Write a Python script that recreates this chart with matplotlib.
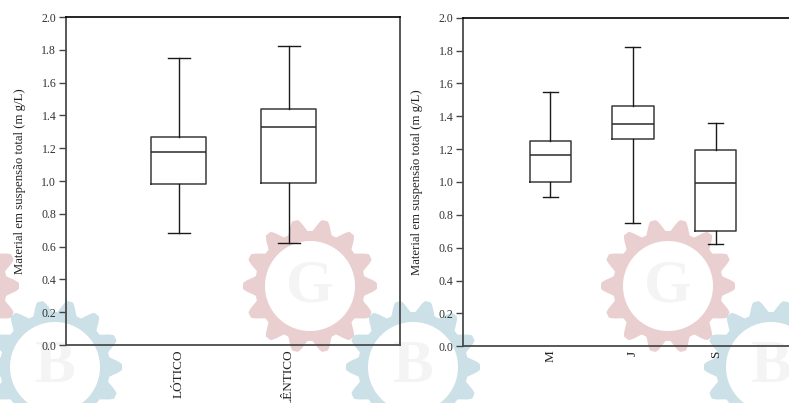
import numpy as np
import matplotlib.pyplot as plt
from matplotlib.patches import Polygon

plt.rcParams['font.family'] = ['Liberation Serif', 'DejaVu Serif']

# Box statistics, suspended material (mg/L)
ambiente = ['LÓTICO', 'LÊNTICO']
amb_whislo = [0.683, 0.620]
amb_q1 = [0.984, 0.986]
amb_med = [1.179, 1.331]
amb_q3 = [1.266, 1.441]
amb_whishi = [1.750, 1.823]

meses = ['M', 'J', 'S']
mes_whislo = [0.907, 0.749, 0.623]
mes_q1 = [1.002, 1.260, 0.700]
mes_med = [1.162, 1.355, 0.992]
mes_q3 = [1.251, 1.463, 1.197]
mes_whishi = [1.548, 1.820, 1.361]

W, H = 789, 403
fig = plt.figure(figsize=(W / 100, H / 100), dpi=100)
fig.patch.set_facecolor('white')


def gear(cx, cy, color, letter):
    # background stamp: toothed ring with a white centre and faint letter
    t = np.linspace(0, 2 * np.pi, 720)
    r = 61 + 6 * np.clip(np.cos(14 * t) * 1.2, -1, 1)
    fig.patches.append(Polygon(np.c_[(cx + r * np.cos(t)) / W, (H - (cy + r * np.sin(t))) / H],
                               closed=True, transform=fig.transFigure,
                               facecolor=color, edgecolor='none', zorder=0))
    fig.patches.append(Polygon(np.c_[(cx + 45 * np.cos(t)) / W, (H - (cy + 45 * np.sin(t))) / H],
                               closed=True, transform=fig.transFigure,
                               facecolor='white', edgecolor='none', zorder=0))
    fig.text(cx / W, (H - cy) / H, letter, ha='center', va='center', fontsize=44,
             fontweight='bold', color='#f4f4f4', zorder=0)


for cx in (-48, 310, 668):
    gear(cx, 286, '#eacfd1', 'G')
for cx in (55, 413, 771):
    gear(cx, 367, '#cbe0e7', 'B')


def make_panel(rect, labels, lo, q1, med, q3, hi, xlim, capw):
    ax = fig.add_axes(rect)
    ax.set_zorder(2)
    ax.patch.set_alpha(0)
    stats = [dict(label=l, whislo=a, q1=b, med=c, q3=d, whishi=e)
             for l, a, b, c, d, e in zip(labels, lo, q1, med, q3, hi)]
    ax.bxp(stats, positions=np.arange(1, len(labels) + 1), widths=0.5,
           capwidths=capw, showfliers=False, patch_artist=False,
           boxprops=dict(color='#3a3a3a', linewidth=1.1),
           medianprops=dict(color='#2a2a2a', linewidth=1.1),
           whiskerprops=dict(color='#1a1a1a', linewidth=1.0),
           capprops=dict(color='#1a1a1a', linewidth=1.0))
    ax.set_xlim(*xlim)
    ax.set_ylim(0, 2.0)
    ax.set_yticks(np.arange(0, 2.01, 0.2))
    ax.set_yticklabels([f'{v:.1f}' for v in np.arange(0, 2.01, 0.2)])
    ax.tick_params(axis='y', length=5, width=1, color='#444444', labelsize=8.6,
                   labelcolor='#333333', pad=2)
    ax.tick_params(axis='x', length=0, labelsize=9.5, labelrotation=90,
                   labelcolor='#222222', pad=3)
    for s in ('left', 'bottom', 'right'):
        ax.spines[s].set_color('#4a4a4a')
        ax.spines[s].set_linewidth(1.3)
    ax.spines['top'].set_color('black')
    ax.spines['top'].set_linewidth(1.2)
    ax.set_ylabel('Material em suspensão total (m g/L)', fontsize=9.2, color='#222222',
                  labelpad=11)
    return ax


make_panel([66 / W, (H - 345) / H, 334 / W, 328 / H], ambiente,
           amb_whislo, amb_q1, amb_med, amb_q3, amb_whishi, (-0.025, 3.01), 0.2)
make_panel([463.3 / W, (H - 346.3) / H, 331 / W, 328.6 / H], meses,
           mes_whislo, mes_q1, mes_med, mes_q3, mes_whishi, (-0.05, 3.95), 0.18)

fig.savefig('out.png', dpi=100)
